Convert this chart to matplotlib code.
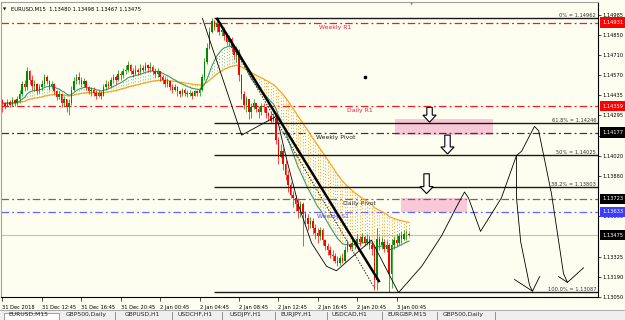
import numpy as np
import pandas as pd
import matplotlib
matplotlib.use('Agg')
import matplotlib.pyplot as plt
import matplotlib.transforms as mtransforms
from matplotlib.patches import FancyArrow, Rectangle
from matplotlib.lines import Line2D

# EURUSD M15 candles (bar index = one 15 minute bar), opens follow previous close
first_open = 1.1440
closes = [1.1438, 1.1436, 1.1439, 1.1437, 1.1440, 1.1438, 1.1441, 1.1444, 1.1451, 1.1449,
          1.1460, 1.1454, 1.1450, 1.1451, 1.1446, 1.1449, 1.1451, 1.1456, 1.1453, 1.1450,
          1.1451, 1.1446, 1.1442, 1.1444, 1.1438, 1.1441, 1.1435, 1.1438, 1.1447, 1.1453,
          1.1456, 1.1454, 1.1451, 1.1453, 1.1449, 1.1446, 1.1447, 1.1445, 1.1443, 1.1445,
          1.1443, 1.1449, 1.1451, 1.1450, 1.1454, 1.1456, 1.1454, 1.1458, 1.1457, 1.1460,
          1.1461, 1.1464, 1.1460, 1.1458, 1.1461, 1.1459, 1.1462, 1.1461, 1.1464, 1.1462,
          1.1463, 1.1460, 1.1458, 1.1460, 1.1456, 1.1454, 1.1451, 1.1453, 1.1449, 1.1447,
          1.1449, 1.1446, 1.1444, 1.1447, 1.1445, 1.1444, 1.1445, 1.1443, 1.1446, 1.1445,
          1.1447, 1.1456, 1.1466, 1.1476, 1.1487, 1.1494, 1.1490, 1.1492, 1.1487, 1.1488,
          1.1484, 1.1480, 1.1482, 1.1476, 1.1471, 1.1473, 1.1457, 1.1444, 1.1437, 1.1441,
          1.1432, 1.1435, 1.1438, 1.1434, 1.1432, 1.1436, 1.1435, 1.1431, 1.1429, 1.1426,
          1.1428, 1.1413, 1.1401, 1.1405, 1.1396, 1.1389, 1.1382, 1.1375, 1.1373, 1.1369,
          1.1364, 1.1369, 1.1362, 1.1359, 1.1355, 1.1357, 1.1352, 1.1349, 1.1347, 1.1351,
          1.1344, 1.1340, 1.1337, 1.1334, 1.1333, 1.1330, 1.1328, 1.1332, 1.1330, 1.1337,
          1.1341, 1.1339, 1.1342, 1.1341, 1.1345, 1.1343, 1.1346, 1.1342, 1.1345, 1.1341,
          1.1338, 1.1317, 1.1345, 1.1341, 1.1343, 1.1338, 1.1341, 1.1321, 1.1341, 1.1344,
          1.1342, 1.1347, 1.1345, 1.1348, 1.13480, 1.13475]
highs = [1.1441, 1.1439, 1.1441, 1.1440, 1.1442, 1.1441, 1.1443, 1.1447, 1.1453, 1.1454,
         1.1463, 1.1461, 1.1457, 1.1454, 1.1452, 1.1451, 1.1454, 1.1458, 1.1457, 1.1454,
         1.1453, 1.1452, 1.1447, 1.1446, 1.1445, 1.1443, 1.1441, 1.1441, 1.1450, 1.1456,
         1.1458, 1.1459, 1.1456, 1.1455, 1.1454, 1.1450, 1.1449, 1.1449, 1.1447, 1.1447,
         1.1446, 1.1451, 1.1454, 1.1453, 1.1456, 1.1458, 1.1457, 1.1461, 1.1460, 1.1462,
         1.1464, 1.1467, 1.1465, 1.1462, 1.1464, 1.1462, 1.1465, 1.1464, 1.1466, 1.1465,
         1.1466, 1.1464, 1.1462, 1.1462, 1.1460, 1.1457, 1.1456, 1.1455, 1.1453, 1.1451,
         1.1451, 1.1450, 1.1447, 1.1448, 1.1448, 1.1447, 1.1447, 1.1446, 1.1447, 1.1447,
         1.1449, 1.1458, 1.1469, 1.1479, 1.1490, 1.14962, 1.1495, 1.1494, 1.1493, 1.1491,
         1.1490, 1.1486, 1.1485, 1.1483, 1.1477, 1.1477, 1.1475, 1.1458, 1.1446, 1.1443,
         1.1441, 1.1438, 1.1441, 1.1438, 1.1436, 1.1438, 1.1438, 1.1436, 1.1432, 1.1432,
         1.1431, 1.1429, 1.1415, 1.1410, 1.1407, 1.1399, 1.1392, 1.1384, 1.1378, 1.1375,
         1.1373, 1.1371, 1.1370, 1.1364, 1.1362, 1.1360, 1.1359, 1.1355, 1.1352, 1.1353,
         1.1352, 1.1345, 1.1342, 1.1340, 1.1337, 1.1335, 1.1333, 1.1334, 1.1335, 1.1340,
         1.1344, 1.1342, 1.1345, 1.1344, 1.1348, 1.1347, 1.1349, 1.1347, 1.1348, 1.1347,
         1.1343, 1.1340, 1.1352, 1.1347, 1.1346, 1.1345, 1.1344, 1.1342, 1.1345, 1.1347,
         1.1348, 1.1349, 1.1350, 1.1351, 1.1351, 1.13498]
lows = [1.1432, 1.1434, 1.1436, 1.1435, 1.1436, 1.1436, 1.1437, 1.1439, 1.1443, 1.1446,
        1.1447, 1.1451, 1.1447, 1.1446, 1.1444, 1.1445, 1.1447, 1.1450, 1.1451, 1.1447,
        1.1448, 1.1444, 1.1440, 1.1441, 1.1435, 1.1436, 1.1432, 1.1430, 1.1437, 1.1446,
        1.1451, 1.1451, 1.1449, 1.1449, 1.1447, 1.1444, 1.1443, 1.1443, 1.1441, 1.1442,
        1.1441, 1.1443, 1.1447, 1.1448, 1.1449, 1.1452, 1.1451, 1.1453, 1.1454, 1.1455,
        1.1458, 1.1459, 1.1458, 1.1456, 1.1457, 1.1457, 1.1458, 1.1459, 1.1460, 1.1459,
        1.1460, 1.1458, 1.1456, 1.1456, 1.1453, 1.1451, 1.1449, 1.1449, 1.1447, 1.1445,
        1.1446, 1.1443, 1.1442, 1.1443, 1.1443, 1.1442, 1.1443, 1.1441, 1.1443, 1.1443,
        1.1443, 1.1446, 1.1454, 1.1465, 1.1475, 1.1486, 1.1488, 1.1487, 1.1485, 1.1484,
        1.1481, 1.1478, 1.1477, 1.1473, 1.1468, 1.1466, 1.1453, 1.1441, 1.1434, 1.1432,
        1.1427, 1.1428, 1.1434, 1.1432, 1.1428, 1.1430, 1.1432, 1.1428, 1.1426, 1.1424,
        1.1425, 1.1410, 1.1396, 1.1400, 1.1392, 1.1385, 1.1377, 1.1373, 1.1367, 1.1364,
        1.1359, 1.1360, 1.1340, 1.1355, 1.1351, 1.1352, 1.1348, 1.1345, 1.1342, 1.1344,
        1.1341, 1.1337, 1.1334, 1.1332, 1.1330, 1.1328, 1.1326, 1.1327, 1.1328, 1.1329,
        1.1336, 1.1337, 1.1338, 1.1338, 1.1340, 1.1340, 1.1342, 1.1340, 1.1341, 1.1338,
        1.1334, 1.1310, 1.1310, 1.1337, 1.1338, 1.1336, 1.1336, 1.13087, 1.1311, 1.1338,
        1.1340, 1.1341, 1.1342, 1.1344, 1.1344, 1.13467]

time_ticks = [0, 16, 32, 48, 64, 80, 96, 112, 128, 144, 160]
time_labels = ['31 Dec 2018', '31 Dec 12:45', '31 Dec 16:45', '31 Dec 20:45', '2 Jan 00:45',
               '2 Jan 04:45', '2 Jan 08:45', '2 Jan 12:45', '2 Jan 16:45', '2 Jan 20:45',
               '3 Jan 00:45']
# scale labels that are not hidden behind the price tags
price_ticks = [1.14985, 1.14850, 1.14710, 1.14570, 1.14435, 1.14295, 1.14155, 1.14020,
               1.13880, 1.13605, 1.13325, 1.13190, 1.13050]

pivot_names = ['Weekly R1', 'Daily R1', 'Weekly Pivot', 'Daily Pivot', 'Weekly S1']
pivot_levels = [1.14931, 1.14359, 1.14177, 1.13723, 1.13633]
pivot_colors = ['#f01c24', '#f01c24', '#383838', '#6a6a6a', '#6464ff']
pivot_text_colors = ['#e8204e', '#e8204e', '#202020', '#303030', '#4848ff']
pivot_label_bars = [135.2, 145.0, 135.2, 145.0, 134.4]

fib_names = ['0%', '61.8%', '50%', '38.2%', '100.0%']
fib_levels = [1.14962, 1.14246, 1.14025, 1.13803, 1.13087]
fib_start = 85.7

tag_levels = [1.14931, 1.14359, 1.14177, 1.13723, 1.13633, 1.13475]
tag_colors = ['#ff0000', '#ff0000', '#000000', '#000000', '#3c3cff', '#000000']
bid = 1.13475

# hand drawn lines
trend_bars, trend_prices = [86.9, 153.1], [1.14964, 1.13152]
dotted_bars, dotted_prices = [91.0, 151.1], [1.1484, 1.1311]
sketch_bars = [81.2, 82.0, 97.1, 111.3, 115.3, 120.2, 125.5, 131.6, 135.6, 149.8, 160.8,
               170.2, 178.3, 184.4, 187.6, 189.2, 194.1, 202.6, 208.7, 210.8, 216.0, 217.7,
               222.9, 227.8, 229.4, 235.9]
sketch_prices = [1.1496, 1.1492, 1.1416, 1.1429, 1.1400, 1.1368, 1.1342, 1.1326, 1.1323,
                 1.1344, 1.1308, 1.1326, 1.1347, 1.1367, 1.1377, 1.1373, 1.1350, 1.1373,
                 1.1402, 1.1405, 1.1422, 1.1419, 1.1376, 1.1321, 1.1315, 1.1325]
branch_bars = [208.7, 208.7, 210.4, 214.0, 215.2, 218.1]
branch_prices = [1.1402, 1.1373, 1.1343, 1.1313, 1.1309, 1.1319]
hook_bars = [[207.9, 215.2], [225.8, 229.4]]
hook_prices = [[1.1317, 1.1309], [1.1319, 1.1315]]

zone_bars = [(159.2, 199.0), (162.0, 188.8)]
zone_prices = [(1.14160, 1.14270), (1.13636, 1.13731)]
arrow_bars = [173.4, 180.7, 172.2]
arrow_tops = [1.14351, 1.14160, 1.13895]
arrow_bottoms = [1.14249, 1.14031, 1.13759]

tab_names = ['EURUSD,M15', 'GBP500,Daily', 'GBPUSD,H1', 'USDCHF,H1', 'USDJPY,H1',
             'EURJPY,H1', 'USDCAD,H1', 'EURGBP,M15', 'GBP500,Daily']
tab_x = [8, 66, 125, 177, 230, 280, 332, 387, 443]
tab_sep = [115, 172, 222, 275, 327, 382, 437, 495]

BG = '#fefef0'

opens = [first_open] + closes[:-1]
idx = np.arange(len(closes))
o = np.array(opens)
c = np.array(closes)
ema_fast = pd.Series(closes).ewm(span=14, adjust=False).mean().values
ema_slow = pd.Series(closes).ewm(span=50, adjust=False).mean().values

fig = plt.figure(figsize=(6.25, 3.2), dpi=100, facecolor=BG)
ax = fig.add_axes([1 / 625, 23 / 320, 597 / 625, 295 / 320], facecolor=BG)
ax.set_xlim(-0.6, 241.8)
ax.set_ylim(1.13064, 1.15073)

# zones
for (x0, x1), (p0, p1) in zip(zone_bars, zone_prices):
    ax.add_patch(Rectangle((x0, p0), x1 - x0, p1 - p0, fc='#f8c8d6', ec='none', zorder=0.5))

# pivot lines
for lev, col in zip(pivot_levels, pivot_colors):
    ax.axhline(lev, color=col, lw=0.9, ls=(0, (6, 2.5, 1.5, 2.5)), zorder=1)
ax.axhline(bid, color='#c0c0c0', lw=0.8, zorder=1)

below = mtransforms.offset_copy(ax.transData, fig=fig, x=0, y=-1.5, units='points')
for name, lev, col, xb in zip(pivot_names, pivot_levels, pivot_text_colors, pivot_label_bars):
    ax.text(xb, lev, name, color=col, fontsize=4.4, ha='center', va='top', transform=below, zorder=4)

# dotted fill between the two averages
fill_cols = np.where(ema_slow > ema_fast, '#f2a01e', '#7fb894')
ax.vlines(idx, np.minimum(ema_fast, ema_slow), np.maximum(ema_fast, ema_slow),
          colors=fill_cols, lw=0.7, linestyles=(0, (1, 2.2)), zorder=1.5)
ax.plot(idx, ema_slow, color='#f5a623', lw=0.9, zorder=2)
ax.plot(idx, ema_fast, color='#3c9a6c', lw=0.8, zorder=2)

# candles
up = c >= o
cols = np.where(up, '#008a00', '#ff0000')
ax.vlines(idx, lows, highs, colors=cols, lw=0.5, zorder=3)
body = np.maximum(np.abs(c - o), 0.00003)
ax.bar(idx, body, bottom=np.minimum(o, c), width=0.62, color=cols, lw=0, zorder=3)

# fibonacci
xmax = ax.get_xlim()[1]
ax.hlines(fib_levels, fib_start, xmax, colors='#1a1a1a', lw=1.0, zorder=4)
blend = mtransforms.blended_transform_factory(ax.transAxes, ax.transData)
for name, lev in zip(fib_names, fib_levels):
    ax.text(0.997, lev, f'{name} = {lev:.5f}', transform=blend, ha='right', va='bottom',
            fontsize=3.7, color='#333333', zorder=4)

# drawings
ax.plot(trend_bars, trend_prices, color='black', lw=1.8, zorder=5, solid_capstyle='butt')
ax.plot(dotted_bars, dotted_prices, color='#222222', lw=0.7, ls=(0, (1.5, 1.5)), zorder=5)
ax.plot(sketch_bars, sketch_prices, color='black', lw=0.6, zorder=5)
ax.plot(branch_bars, branch_prices, color='black', lw=0.6, zorder=5)
for hb, hp in zip(hook_bars, hook_prices):
    ax.plot(hb, hp, color='black', lw=0.6, zorder=5)
for xb, top, bot in zip(arrow_bars, arrow_tops, arrow_bottoms):
    ax.add_patch(FancyArrow(xb, top, 0, bot - top, width=2.2, head_width=5.4,
                            head_length=0.00048, length_includes_head=True,
                            fc='white', ec='black', lw=0.8, zorder=6))
ax.plot([147.0], [1.14562], marker='s', ms=1.5, color='black', zorder=6)

# axes look
for s in ['left', 'top']:
    ax.spines[s].set_color('#a0a0a0')
    ax.spines[s].set_linewidth(0.8)
for s in ['right', 'bottom']:
    ax.spines[s].set_color('black')
    ax.spines[s].set_linewidth(0.8)

ax.yaxis.tick_right()
ax.set_yticks(price_ticks)
ax.set_yticklabels([f'{p:.5f}' for p in price_ticks])
ax.tick_params(axis='y', length=2, width=0.5, pad=1.5, labelsize=3.7)
ax.set_xticks(time_ticks)
ax.set_xticklabels(time_labels, ha='left')
ax.tick_params(axis='x', length=3, width=0.5, pad=2.5, labelsize=3.7)

for lev, col in zip(tag_levels, tag_colors):
    ax.text(1.0, lev, f'{lev:.5f}', transform=mtransforms.offset_copy(blend, fig=fig, x=3.5, y=0, units='points'),
            ha='left', va='center', fontsize=3.7, color='white', clip_on=False, zorder=10,
            bbox=dict(boxstyle='square,pad=0.55', fc=col, ec='none'))

ax.text(0.017, 0.976, 'EURUSD,M15  1.13480 1.13498 1.13467 1.13475', transform=ax.transAxes,
        fontsize=3.8, va='center', ha='left', color='black')
ax.text(0.004, 0.976, '\u25bc', transform=ax.transAxes, fontsize=3, va='center', ha='left')
ax.text(0.688, 0.99, '\u25bc', transform=ax.transAxes, fontsize=3, va='center', ha='center',
        color='#909090')

# terminal tabs
fig.add_artist(Rectangle((0, 0), 1, 10 / 320, transform=fig.transFigure, fc='#efefef', ec='none'))
fig.add_artist(Line2D([0, 1], [10 / 320, 10 / 320], transform=fig.transFigure, color='#a0a0a0', lw=0.6))
fig.add_artist(Rectangle((4 / 625, -0.01), 55 / 625, 10.5 / 320, transform=fig.transFigure,
                         fc='white', ec='#909090', lw=0.6))
for name, x in zip(tab_names, tab_x):
    fig.text(x / 625, 1 - 312 / 320, name, fontsize=4.3, va='top', ha='left', color='#202020')
for x in tab_sep:
    fig.add_artist(Line2D([x / 625, x / 625], [0, 8 / 320], transform=fig.transFigure,
                          color='#808080', lw=0.6))

fig.savefig('out.png', dpi=100, facecolor=BG)
